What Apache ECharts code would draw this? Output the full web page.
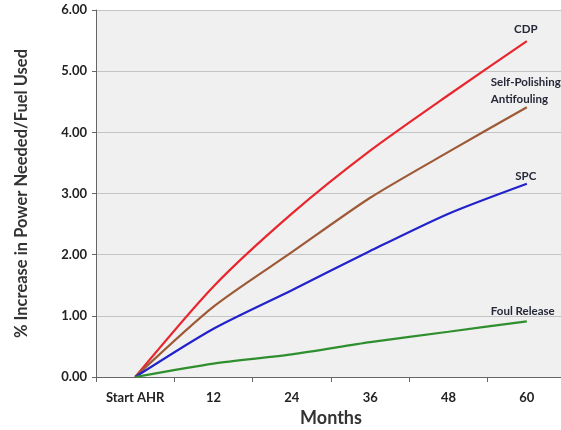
<!DOCTYPE html>
<html>
<head>
<meta charset="utf-8">
<script src="https://cdn.jsdelivr.net/npm/echarts@6/dist/echarts.min.js"></script>
<style>html,body{margin:0;padding:0;background:#fff;}#c{width:561px;height:430px;}</style>
</head>
<body>
<div id="c"></div>
<script>
const categories = ['Start AHR', '12', '24', '36', '48', '60'];
const cdp = [0, 1.48, 2.67, 3.70, 4.61, 5.49];
const selfPolishing = [0, 1.15, 2.04, 2.93, 3.68, 4.41];
const spc = [0, 0.79, 1.42, 2.06, 2.67, 3.16];
const foulRelease = [0, 0.22, 0.37, 0.57, 0.74, 0.91];
const yTicks = [0, 1, 2, 3, 4, 5, 6];

const FONT = 'Lato';
function mk(name, data, color, label, lab) {
  return {
    name: name, type: 'line', data: data, smooth: 0.25, showSymbol: false, symbol: 'none',
    lineStyle: { color: color, width: 2.2 }, itemStyle: { color: color },
    endLabel: Object.assign({
      show: true, formatter: label, distance: 0,
      fontFamily: FONT, fontWeight: 'bold', fontSize: 11.5, color: '#262838', lineHeight: 17
    }, lab),
    emphasis: { disabled: true }, animation: false
  };
}
const chart = echarts.init(document.getElementById('c'), null, { renderer: 'canvas' });
chart.setOption({
  animation: false,
  grid: { left: 96, top: 10, width: 470, height: 367, show: true, backgroundColor: '#f0f0f0', borderWidth: 0,
    containLabel: false, outerBoundsMode: 'none' },
  xAxis: {
    type: 'category', data: categories, boundaryGap: true,
    name: 'Months', nameLocation: 'middle', nameGap: 31,
    nameTextStyle: { fontFamily: FONT, fontWeight: 'bold', fontSize: 18, color: '#333' },
    axisLine: { lineStyle: { color: '#666', width: 1 } },
    axisTick: { show: true, length: 5, lineStyle: { color: '#666' } },
    axisLabel: { fontFamily: FONT, fontWeight: 'bold', fontSize: 13, color: '#222', margin: 14 },
    splitLine: { show: false }
  },
  yAxis: {
    type: 'value', min: yTicks[0], max: yTicks[yTicks.length - 1], interval: 1,
    name: '% Increase in Power Needed/Fuel Used', nameLocation: 'middle', nameGap: 66,
    nameTextStyle: { fontFamily: FONT, fontWeight: 'bold', fontSize: 16.5, color: '#333' },
    axisLine: { show: true, lineStyle: { color: '#666', width: 1 } },
    axisTick: { show: true, length: 4, lineStyle: { color: '#666' } },
    axisLabel: { fontFamily: FONT, fontWeight: 'bold', fontSize: 13, color: '#222', margin: 9,
      formatter: v => v.toFixed(2) },
    splitLine: { show: true, lineStyle: { color: '#c4c4c4', width: 1 } }
  },
  series: [
    mk('CDP', cdp, '#e8262e', 'CDP', { align: 'center', verticalAlign: 'bottom', offset: [-1, -3] }),
    mk('Self-Polishing Antifouling', selfPolishing, '#9e5a36', 'Self-Polishing\nAntifouling', { align: 'left', verticalAlign: 'bottom', offset: [-36, 1] }),
    mk('SPC', spc, '#2222cc', 'SPC', { align: 'center', verticalAlign: 'bottom', offset: [-1, 1] }),
    mk('Foul Release', foulRelease, '#2f8f2f', 'Foul Release', { align: 'left', verticalAlign: 'bottom', offset: [-36, -2] })
  ]
});
</script>
</body>
</html>
